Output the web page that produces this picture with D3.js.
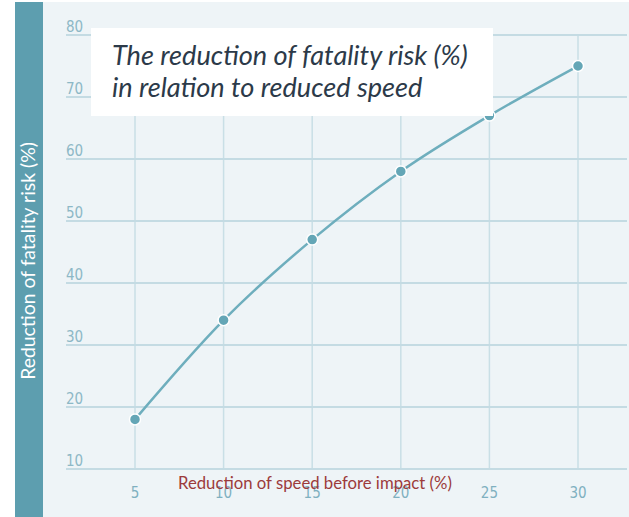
<!DOCTYPE html>
<html><head><meta charset="utf-8">
<script src="https://cdn.jsdelivr.net/npm/d3@7"></script>
<style>html,body{margin:0;padding:0;background:#fff;}svg{display:block;}</style>
</head><body>
<svg id="chart" width="629" height="517"></svg>
<script>
const speedReduction = [5, 10, 15, 20, 25, 30];
const fatalityReduction = [18, 34, 47, 58, 67, 75];
const yTicks = [10, 20, 30, 40, 50, 60, 70, 80];
const xTicks = [5, 10, 15, 20, 25, 30];
const titleLines = ["The reduction of fatality risk (%)", "in relation to reduced speed"];
const xTitle = "Reduction of speed before impact (%)";
const yTitle = "Reduction of fatality risk (%)";

const svg = d3.select("#chart");
const W = 629, H = 517;
const x = d3.scaleLinear().domain([5, 30]).range([135, 578]);
const y = d3.scaleLinear().domain([10, 80]).range([469, 35]);
const gridLeft = 66, gridRight = 627;
const narrow = "'Liberation Sans Narrow','DejaVu Sans Condensed','Roboto Condensed',sans-serif";
const sans = "Lato,'Open Sans','Noto Sans',sans-serif";

// panel background
svg.append("rect").attr("x", 43).attr("y", 2).attr("width", W - 43).attr("height", H - 2).attr("fill", "#eef4f7");
// left bar
svg.append("rect").attr("x", 15).attr("y", 2).attr("width", 28).attr("height", H - 2).attr("fill", "#5d9eaf");

// vertical grid
svg.append("g").selectAll("line").data(xTicks).join("line")
  .attr("x1", d => x(d)).attr("x2", d => x(d))
  .attr("y1", y(80)).attr("y2", y(10))
  .attr("stroke", "#c9dfe6").attr("stroke-width", 1.5);
// horizontal grid
svg.append("g").selectAll("line").data(yTicks).join("line")
  .attr("x1", gridLeft).attr("x2", gridRight)
  .attr("y1", d => y(d)).attr("y2", d => y(d))
  .attr("stroke", "#c4dbe3").attr("stroke-width", 2);

// y tick labels
svg.append("g").selectAll("text").data(yTicks).join("text")
  .attr("x", 66).attr("y", d => y(d) - 3)
  .attr("font-family", narrow).attr("font-size", 15)
  .attr("fill", "#8db8c6").text(d => d);
// x tick labels
svg.append("g").selectAll("text").data(xTicks).join("text")
  .attr("x", d => x(d)).attr("y", 498)
  .attr("text-anchor", "middle")
  .attr("font-family", narrow).attr("font-size", 15)
  .attr("fill", "#7fb0c0").text(d => d);

// line
const pts = speedReduction.map((s, i) => [s, fatalityReduction[i]]);
svg.append("path").datum(pts)
  .attr("d", d3.line().x(d => x(d[0])).y(d => y(d[1])).curve(d3.curveMonotoneX))
  .attr("fill", "none").attr("stroke", "#6eaebd").attr("stroke-width", 2.5);
svg.append("g").selectAll("circle").data(pts).join("circle")
  .attr("cx", d => x(d[0])).attr("cy", d => y(d[1])).attr("r", 5.5)
  .attr("fill", "#64a6b6").attr("stroke", "#ffffff").attr("stroke-width", 1.5);

// title box
svg.append("rect").attr("x", 91).attr("y", 28).attr("width", 402).attr("height", 88).attr("fill", "#ffffff");
const tt = svg.append("g");
titleLines.forEach((t, i) => {
  tt.append("text").attr("x", 112).attr("y", 65 + i * 32)
    .attr("font-family", sans).attr("font-style", "italic")
    .attr("font-size", 24).attr("fill", "#2c3a49").text(t);
});
const n0 = tt.select("text").node();
const w0 = n0.getComputedTextLength();
tt.selectAll("text").attr("font-size", 24 * 356 / w0);

// x axis title
const xt = svg.append("text").attr("x", 178).attr("y", 489)
  .attr("font-family", sans).attr("font-size", 15)
  .attr("fill", "#9c3b3b").text(xTitle);
const xw = xt.node().getComputedTextLength();
xt.attr("font-size", 15 * 274 / xw);

// y axis title
const yt = svg.append("text")
  .attr("transform", "translate(35,261) rotate(-90)")
  .attr("text-anchor", "middle")
  .attr("font-family", sans).attr("font-size", 17)
  .attr("fill", "#ffffff").text(yTitle);
const yw = yt.node().getComputedTextLength();
yt.attr("font-size", 17 * 238 / yw);
</script>
</body></html>
